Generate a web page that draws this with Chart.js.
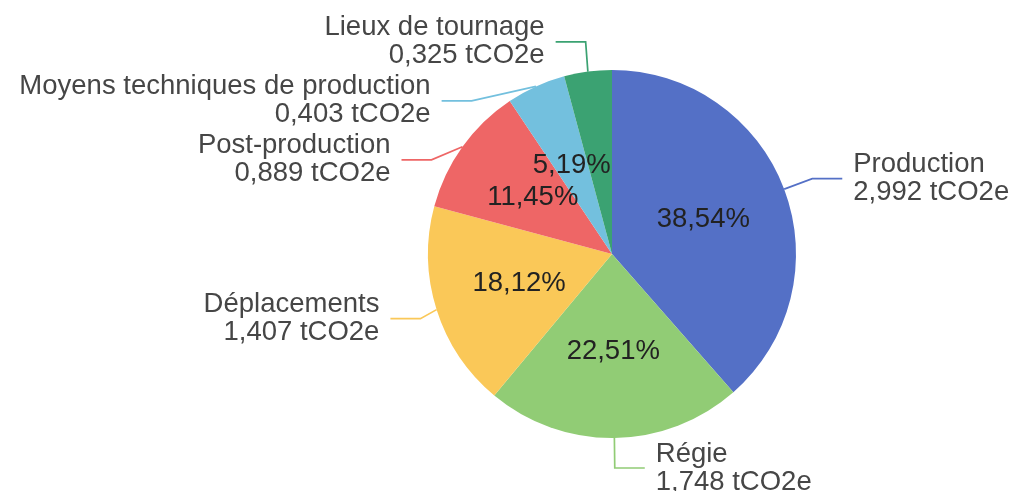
<!DOCTYPE html>
<html>
<head>
<meta charset="utf-8">
<script src="https://cdn.jsdelivr.net/npm/chart.js@4/dist/chart.umd.min.js"></script>
<style>
  html, body { margin: 0; padding: 0; background: #fff; }
  #wrap { width: 1014px; height: 491px; position: relative; }
</style>
</head>
<body>
<div id="wrap"><canvas id="myChart"></canvas></div>
<script>
const categories = ['Production', 'Régie', 'Déplacements', 'Post-production', 'Moyens techniques de production', 'Lieux de tournage'];
const values = [2.992, 1.748, 1.407, 0.889, 0.403, 0.325];
const colors = ['#5470c6', '#91cc75', '#fac858', '#ee6666', '#73c0de', '#3ba272'];
const unit = 'tCO2e';

const total = values.reduce((a, b) => a + b, 0);

function frNum(v, d) {
    return v.toFixed(d).replace('.', ',');
}

// labels with leader lines outside + percentages inside
const pieLabels = {
    id: 'pieLabels',
    afterDatasetsDraw(chart) {
        const c = chart.ctx;
        const arcs = chart.getDatasetMeta(0).data;
        const font = '27.5px "Liberation Sans", Arial, sans-serif';
        const len1 = 30, len2 = 30, gap = 11, lineH = 28, minSpace = 59;

        let items = [];
        arcs.forEach((arc, i) => {
            const mid = (arc.startAngle + arc.endAngle) / 2;
            const r = arc.outerRadius;
            const cx = arc.x, cy = arc.y;
            const dx = Math.cos(mid), dy = Math.sin(mid);
            items.push({
                i: i, cx: cx, cy: cy, r: r, mid: mid,
                p0: {x: cx + dx * r, y: cy + dy * r},
                p1: {x: cx + dx * (r + len1), y: cy + dy * (r + len1)},
                right: dx >= 0
            });
        });

        // push overlapping labels down on each side
        [true, false].forEach(side => {
            const list = items.filter(it => it.right === side).sort((a, b) => a.p1.y - b.p1.y);
            let prev = -Infinity;
            list.forEach(it => {
                it.ly = Math.max(it.p1.y, prev + minSpace);
                prev = it.ly;
            });
        });

        c.save();
        c.font = font;
        items.forEach(it => {
            const rB = it.r + len1;
            const rA = it.right ? rB : it.r + 17;
            const ddy = it.ly - it.cy;
            let ex;
            if (Math.abs(ddy) >= rB - 1) {
                ex = it.p1.x;
            } else {
                const k = Math.sqrt(1 - (ddy * ddy) / (rB * rB));
                ex = it.cx + (it.right ? 1 : -1) * rA * k;
            }
            const endX = ex + (it.right ? len2 : -len2);

            c.strokeStyle = colors[it.i];
            c.lineWidth = 1.7;
            c.beginPath();
            c.moveTo(it.p0.x, it.p0.y);
            c.lineTo(ex, it.ly);
            c.lineTo(endX, it.ly);
            c.stroke();

            c.fillStyle = '#464646';
            c.textBaseline = 'middle';
            c.textAlign = it.right ? 'left' : 'right';
            const tx = endX + (it.right ? gap : -gap);
            c.fillText(categories[it.i], tx, it.ly - lineH / 2);
            c.fillText(frNum(values[it.i], 3) + ' ' + unit, tx, it.ly + lineH / 2);
        });

        // percentages
        c.fillStyle = '#222';
        c.textAlign = 'center';
        c.textBaseline = 'middle';
        items.forEach(it => {
            const pct = values[it.i] / total * 100;
            if (pct < 5) return;
            const rr = it.r * 0.53;
            c.fillText(frNum(pct, 2) + '%', it.cx + Math.cos(it.mid) * rr, it.cy + Math.sin(it.mid) * rr);
        });
        c.restore();
    }
};

const ctx = document.getElementById('myChart');
const myChart = new Chart(ctx, {
    type: 'pie',
    data: {
        labels: categories,
        datasets: [{
            data: values,
            backgroundColor: colors,
            borderWidth: 0
        }]
    },
    options: {
        responsive: true,
        maintainAspectRatio: false,
        animation: false,
        layout: {
            padding: {left: 428, right: 218, top: 70, bottom: 53}
        },
        plugins: {
            legend: {display: false},
            tooltip: {enabled: false}
        }
    },
    plugins: [pieLabels]
});
</script>
</body>
</html>
